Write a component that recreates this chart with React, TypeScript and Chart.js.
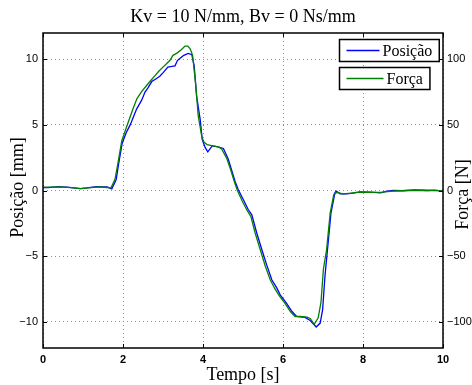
import React, { useEffect, useRef } from "react";
import { Chart, registerables } from "chart.js";

Chart.register(...registerables);

const TITLE = "Kv = 10 N/mm, Bv = 0 Ns/mm";
const X_TITLE = "Tempo [s]";
const Y_TITLE = "Posição [mm]";
const Y1_TITLE = "Força [N]";

const X_TICKS = [0, 2, 4, 6, 8, 10];
const Y_TICKS = [-10, -5, 0, 5, 10];
const Y1_TICKS = [-100, -50, 0, 50, 100];

const POS_LABEL = "Posição";
const FORCE_LABEL = "Força";

const posTime = [
  0.0, 0.13, 0.38, 0.6, 0.93, 1.1, 1.34, 1.5, 1.6, 1.72, 1.83, 1.9, 1.98, 2.08, 2.18, 2.34, 2.47, 2.55, 2.62, 2.72,
  2.82, 2.92, 3.01, 3.12, 3.22, 3.3, 3.36, 3.42, 3.52, 3.63, 3.72, 3.78, 3.84, 3.93, 3.98, 4.05, 4.12, 4.23, 4.35, 4.51,
  4.63, 4.72, 4.8, 4.88, 5.01, 5.13, 5.22, 5.34, 5.47, 5.59, 5.72, 5.84, 5.93, 6.09, 6.22, 6.34, 6.55, 6.68, 6.83, 6.93,
  6.99, 7.05, 7.1, 7.2, 7.3, 7.33, 7.43, 7.59, 7.75, 7.93, 8.2, 8.43, 8.6, 8.76, 9.0, 9.3, 9.6, 9.8, 10.0,
];
const posValues = [
  0.22, 0.22, 0.3, 0.25, 0.15, 0.2, 0.3, 0.28, 0.28, 0.13, 0.84, 2.2, 3.6, 4.4, 5.0, 6.2, 6.9, 7.5, 7.8, 8.3,
  8.5, 8.7, 9.0, 9.4, 9.45, 9.5, 9.9, 10.05, 10.3, 10.45, 10.35, 9.5, 7.2, 5.4, 3.9, 3.3, 2.95, 3.4, 3.35, 3.2,
  2.4, 1.5, 0.7, 0.08, -0.7, -1.45, -1.85, -3.2, -4.5, -5.65, -6.8, -7.4, -7.95, -8.6, -9.2, -9.6, -9.67, -9.9, -10.4, -10.1,
  -9.1, -6.5, -4.9, -1.7, -0.15, -0.05, -0.25, -0.25, -0.2, -0.1, -0.12, -0.18, -0.05, 0.0, -0.02, 0.05, 0.0, 0.03, -0.05,
];

const forceTime = [
  0.0, 0.2, 0.4, 0.7, 0.95, 1.2, 1.4, 1.6, 1.7, 1.8, 1.88, 1.97, 2.05, 2.13, 2.26, 2.35, 2.47, 2.59, 2.7, 2.8,
  2.9, 3.0, 3.1, 3.17, 3.25, 3.34, 3.45, 3.55, 3.62, 3.68, 3.74, 3.82, 3.88, 3.97, 4.02, 4.1, 4.25, 4.4, 4.47, 4.6,
  4.7, 4.78, 4.86, 4.98, 5.1, 5.2, 5.3, 5.43, 5.55, 5.68, 5.8, 5.9, 6.05, 6.18, 6.3, 6.43, 6.6, 6.68, 6.78, 6.88,
  6.95, 7.01, 7.09, 7.18, 7.27, 7.35, 7.5, 7.7, 7.9, 8.2, 8.5, 8.8, 9.1, 9.5, 10.0,
];
const forceValues = [
  2.5, 2.5, 2.8, 2.2, 1.5, 2.2, 2.8, 2.3, 2.0, 8.5, 22, 38, 45, 52, 63, 70, 75.5, 80, 84, 87.5,
  91, 94, 97, 99, 103, 104.5, 107, 110, 110, 108, 103, 80, 57, 41, 37, 35, 34, 33, 31.5, 24,
  15, 7, 0, -8, -15, -20, -32, -45, -57, -68, -75, -80, -86, -92, -96, -96, -96.5, -97.5, -102, -97,
  -85, -60, -45, -17, -3, -1.5, -2.5, -2.0, -1.2, -1.5, -1.3, -0.3, 0, 0.2, -0.3,
];

const POS_COLOR = "#0000ff";
const FORCE_COLOR = "#008000";
const SERIF = "'Liberation Serif', 'Times New Roman', serif";
const SANS = "'Liberation Sans', Arial, sans-serif";

const fmt = (v: number) => String(v).replace("-", "\u2212");

const decorPlugin = {
  id: "decor",
  afterDatasetsDraw(chart: any) {
    const ctx = chart.ctx;
    const a = chart.chartArea;
    const xs = chart.scales.x;
    const ys = chart.scales.y;
    ctx.save();
    ctx.strokeStyle = "#000";
    ctx.lineWidth = 1;
    const tl = 4;
    X_TICKS.forEach((t) => {
      const px = Math.round(xs.getPixelForValue(t)) + 0.5;
      ctx.beginPath();
      ctx.moveTo(px, a.bottom);
      ctx.lineTo(px, a.bottom - tl);
      ctx.moveTo(px, a.top);
      ctx.lineTo(px, a.top + tl);
      ctx.stroke();
    });
    Y_TICKS.forEach((t) => {
      const py = Math.round(ys.getPixelForValue(t)) + 0.5;
      ctx.beginPath();
      ctx.moveTo(a.left, py);
      ctx.lineTo(a.left + tl, py);
      ctx.moveTo(a.right, py);
      ctx.lineTo(a.right - tl, py);
      ctx.stroke();
    });
    ctx.lineWidth = 1.5;
    ctx.strokeRect(a.left, a.top, a.right - a.left, a.bottom - a.top);

    ctx.fillStyle = "#000";
    ctx.textAlign = "center";
    ctx.textBaseline = "middle";
    ctx.font = `18px ${SERIF}`;
    ctx.fillText(TITLE, (a.left + a.right) / 2, 17);
    ctx.fillText(X_TITLE, (a.left + a.right) / 2, 375);
    ctx.save();
    ctx.translate(18, (a.top + a.bottom) / 2 - 3);
    ctx.rotate(-Math.PI / 2);
    ctx.fillText(Y_TITLE, 0, 0);
    ctx.restore();
    ctx.save();
    ctx.translate(463, (a.top + a.bottom) / 2 + 4);
    ctx.rotate(-Math.PI / 2);
    ctx.fillText(Y1_TITLE, 0, 0);
    ctx.restore();

    const items = [
      { label: chart.data.datasets[1].label, color: chart.data.datasets[1].borderColor, top: 39.5, lineLen: 33 },
      { label: chart.data.datasets[0].label, color: chart.data.datasets[0].borderColor, top: 67.5, lineLen: 37 },
    ];
    ctx.font = `16px ${SERIF}`;
    ctx.textAlign = "left";
    items.forEach((it) => {
      const left = 339.5;
      const h = 22;
      const tw = ctx.measureText(it.label).width;
      const w = 7 + it.lineLen + 3 + tw + 7;
      ctx.fillStyle = "#fff";
      ctx.fillRect(left, it.top, w, h);
      ctx.strokeStyle = "#000";
      ctx.lineWidth = 1.5;
      ctx.strokeRect(left, it.top, w, h);
      ctx.strokeStyle = it.color;
      ctx.lineWidth = 1.3;
      ctx.beginPath();
      ctx.moveTo(left + 7, it.top + h / 2);
      ctx.lineTo(left + 7 + it.lineLen, it.top + h / 2);
      ctx.stroke();
      ctx.fillStyle = "#000";
      ctx.fillText(it.label, left + 7 + it.lineLen + 3, it.top + h / 2 + 1);
    });
    ctx.restore();
  },
};

export default function App() {
  const ref = useRef<HTMLCanvasElement | null>(null);
  useEffect(() => {
    if (!ref.current) return;
    const chart = new Chart(ref.current, {
      type: "line",
      data: {
        datasets: [
          {
            label: FORCE_LABEL,
            data: forceTime.map((t, i) => ({ x: t, y: forceValues[i] })),
            borderColor: FORCE_COLOR,
            borderWidth: 1.3,
            pointRadius: 0,
            yAxisID: "y1",
            order: 0,
          },
          {
            label: POS_LABEL,
            data: posTime.map((t, i) => ({ x: t, y: posValues[i] })),
            borderColor: POS_COLOR,
            borderWidth: 1.3,
            pointRadius: 0,
            yAxisID: "y",
            order: 1,
          },
        ],
      },
      options: {
        responsive: false,
        animation: false,
        layout: { padding: { top: 33, left: 0, right: 0, bottom: 0 } },
        plugins: { legend: { display: false }, tooltip: { enabled: false }, title: { display: false } },
        scales: {
          x: {
            type: "linear",
            min: 0,
            max: 10,
            afterFit: (s: any) => { s.height = 37; },
            afterBuildTicks: (s: any) => { s.ticks = X_TICKS.map((v) => ({ value: v })); },
            grid: { color: "#909090", lineWidth: 1, drawTicks: false },
            border: { display: false, dash: [1, 3] },
            ticks: {
              padding: 5,
              color: "#000",
              font: { family: SANS, size: 11, weight: "bold" },
              maxRotation: 0,
              callback: (v: any) => fmt(v),
            },
          },
          y: {
            type: "linear",
            position: "left",
            min: -12,
            max: 12,
            afterFit: (s: any) => { s.width = 43; },
            afterBuildTicks: (s: any) => { s.ticks = Y_TICKS.map((v) => ({ value: v })); },
            grid: { color: "#909090", lineWidth: 1, drawTicks: false },
            border: { display: false, dash: [1, 3] },
            ticks: {
              padding: 5,
              color: "#000",
              font: { family: SANS, size: 11 },
              callback: (v: any) => fmt(v),
            },
          },
          y1: {
            type: "linear",
            position: "right",
            min: -120,
            max: 120,
            afterFit: (s: any) => { s.width = 29; },
            afterBuildTicks: (s: any) => { s.ticks = Y1_TICKS.map((v) => ({ value: v })); },
            grid: { display: false, drawTicks: false },
            border: { display: false },
            ticks: {
              padding: 4,
              color: "#000",
              font: { family: SANS, size: 11 },
              callback: (v: any) => fmt(v),
            },
          },
        },
      },
      plugins: [decorPlugin],
    } as any);
    return () => chart.destroy();
  }, []);
  return (
    <div style={{ position: "absolute", left: 0, top: 0, width: 472, height: 385, background: "#fff" }}>
      <canvas ref={ref} width={472} height={385} />
    </div>
  );
}
